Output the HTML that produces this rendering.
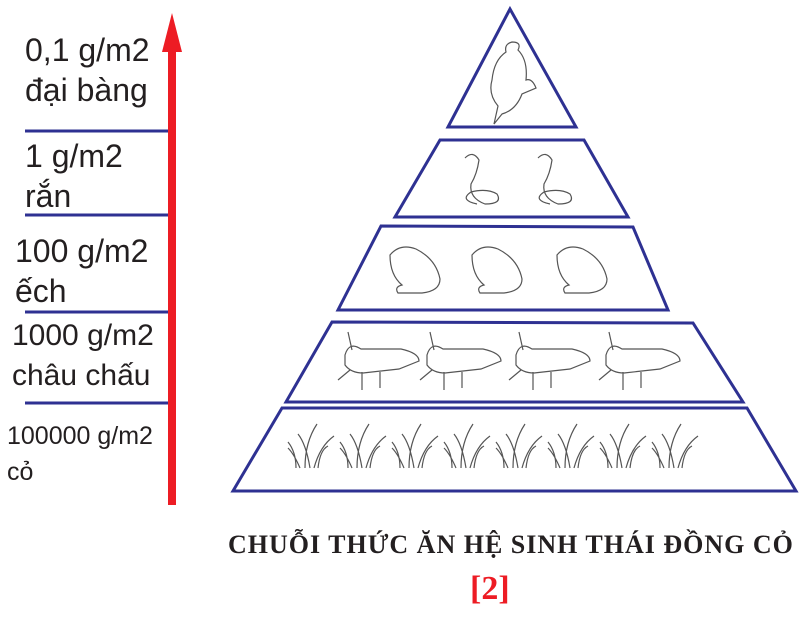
<!DOCTYPE html>
<html><head><meta charset="utf-8"><style>
html,body{margin:0;padding:0;background:#fff;}
body{width:811px;height:618px;position:relative;overflow:hidden;font-family:"Liberation Sans",sans-serif;}
.l{position:absolute;left:25px;font-size:32px;color:#231f20;line-height:40px;white-space:nowrap;}
</style></head><body>
<svg width="811" height="618" style="position:absolute;left:0;top:0">
<g stroke="#2e3192" stroke-width="3" fill="#fff">
<polygon points="510,9 448,127 576,127"/>
<polygon points="440,140 584,140 628,217 395,217"/>
<polygon points="381,226 633,227 668,310 338,310"/>
<polygon points="332,322 693,323 743,402 286,402"/>
<polygon points="282,408 747,408 796,491 233,491"/>
</g>
<g stroke="#2e3192" stroke-width="3">
<line x1="25" y1="131" x2="172" y2="131"/>
<line x1="25" y1="215" x2="172" y2="215"/>
<line x1="25" y1="312" x2="172" y2="312"/>
<line x1="25" y1="403" x2="172" y2="403"/>
</g>
<rect x="168" y="45" width="8" height="460" fill="#ed1c24"/>
<polygon points="172,13 162,52 182,52" fill="#ed1c24"/>
<g fill="none" stroke="#555" stroke-width="1.2">
<path d="M512,42 q-8,2 -6,10 q-12,8 -14,28 q-4,14 6,26 l-4,18 l8,-10 q14,-4 20,-20 l14,-6 q-4,-10 -10,-8 q2,-20 -8,-30 q4,-8 -6,-8z"/>
<path d="M465,158 q8,-8 14,2 q-2,14 -8,24 q-2,14 14,20 q18,0 12,-10 q-10,-6 -26,-2 q-12,8 6,12"/>
<path d="M538,158 q8,-8 14,2 q-2,14 -8,24 q-2,14 14,20 q18,0 12,-10 q-10,-6 -26,-2 q-12,8 6,12"/>
<path d="M390,255 q10,-12 26,-6 q20,10 24,30 q0,12 -18,14 l-24,0 q-4,-6 4,-8 q-12,-10 -12,-30z"/>
<path d="M472,255 q10,-12 26,-6 q20,10 24,30 q0,12 -18,14 l-24,0 q-4,-6 4,-8 q-12,-10 -12,-30z"/>
<path d="M557,255 q10,-12 26,-6 q20,10 24,30 q0,12 -18,14 l-24,0 q-4,-6 4,-8 q-12,-10 -12,-30z"/>
<path d="M345,355 q4,-14 16,-6 l40,0 q18,4 18,12 l-20,8 l-36,4 q-12,0 -18,-8z M352,350 l-4,-18 M350,370 l-12,10 M362,372 l0,18 M380,372 l0,16"/>
<path d="M427,355 q4,-14 16,-6 l40,0 q18,4 18,12 l-20,8 l-36,4 q-12,0 -18,-8z M434,350 l-4,-18 M432,370 l-12,10 M444,372 l0,18 M462,372 l0,16"/>
<path d="M516,355 q4,-14 16,-6 l40,0 q18,4 18,12 l-20,8 l-36,4 q-12,0 -18,-8z M523,350 l-4,-18 M521,370 l-12,10 M533,372 l0,18 M551,372 l0,16"/>
<path d="M606,355 q4,-14 16,-6 l40,0 q18,4 18,12 l-20,8 l-36,4 q-12,0 -18,-8z M613,350 l-4,-18 M611,370 l-12,10 M623,372 l0,18 M641,372 l0,16"/>
<g id="g"><path d="M300,468 q-6,-14 -12,-20 M305,468 q0,-26 12,-44 M310,468 q-4,-24 -12,-34 M314,468 q6,-22 20,-32 M318,468 q2,-18 10,-22 M296,468 q0,-16 -8,-26"/></g>
<use href="#g" x="52"/><use href="#g" x="104"/><use href="#g" x="156"/><use href="#g" x="208"/><use href="#g" x="260"/><use href="#g" x="312"/><use href="#g" x="364"/>
</g>
</svg>
<div class="l" style="top:30px">0,1 g/m2<br>đại bàng</div>
<div class="l" style="top:136px">1 g/m2<br>rắn</div>
<div class="l" style="top:231px;left:15px">100 g/m2<br>ếch</div>
<div class="l" style="top:316px;left:12px;font-size:30px">1000 g/m2<br>châu chấu</div>
<div class="l" style="top:418px;left:7px;font-size:25px;line-height:36px">100000 g/m2<br>cỏ</div>
<div style="position:absolute;left:228px;top:530px;font-family:'Liberation Serif',serif;font-weight:bold;font-size:26px;letter-spacing:1px;color:#231f20;white-space:nowrap">CHUỖI THỨC ĂN HỆ SINH THÁI ĐỒNG CỎ</div>
<div style="position:absolute;left:470px;top:570px;font-family:'Liberation Serif',serif;font-weight:bold;font-size:34px;color:#ed1c24">[2]</div>
</body></html>
